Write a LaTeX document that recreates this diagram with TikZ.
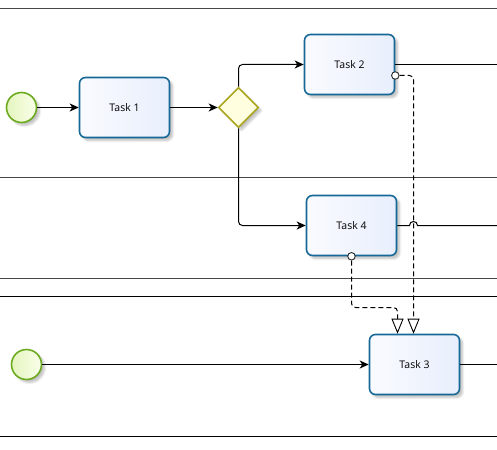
\documentclass[tikz,border=0pt]{standalone}
\usepackage{fontspec}
\setmainfont{Open Sans}
\usetikzlibrary{shapes.geometric,arrows.meta,shadows.blur,calc}
\definecolor{taskborder}{RGB}{22,104,150}
\definecolor{taskfillA}{RGB}{250,251,255}
\definecolor{taskfillB}{RGB}{232,238,252}
\definecolor{evborder}{RGB}{108,170,30}
\definecolor{evfillA}{RGB}{250,255,235}
\definecolor{evfillB}{RGB}{228,245,190}
\definecolor{gwborder}{RGB}{170,165,30}
\definecolor{gwfill}{RGB}{255,255,224}
\definecolor{lanegray}{RGB}{70,70,70}
\tikzset{
  taskbox/.style={draw=taskborder, line width=1.6pt, rounded corners=6pt,
    minimum width=90pt, minimum height=60pt, inner sep=0pt,
    left color=taskfillA, right color=taskfillB,
    font=\fontsize{10.5}{12}\selectfont,
    blur shadow={shadow xshift=3pt, shadow yshift=-3pt, shadow blur steps=6, shadow opacity=25}},
  startev/.style={circle, draw=evborder, line width=1.6pt, minimum size=30pt, inner sep=0pt,
    left color=evfillB, right color=evfillA,
    blur shadow={shadow xshift=3pt, shadow yshift=-3pt, shadow blur steps=6, shadow opacity=25}},
  gateway/.style={diamond, aspect=1, draw=gwborder, line width=1.6pt, minimum size=40pt, inner sep=0pt,
    fill=gwfill,
    blur shadow={shadow xshift=3pt, shadow yshift=-3pt, shadow blur steps=6, shadow opacity=25}},
  seqflow/.style={draw=black, line width=1pt, -{Stealth[length=9pt,width=8pt,inset=2.5pt]}, rounded corners=4pt},
  plainflow/.style={draw=black, line width=1pt},
  msgflow/.style={draw=black, line width=1pt, dash pattern=on 5pt off 3pt, rounded corners=4pt,
    -{Triangle[open, length=15pt, width=12pt, line width=0.9pt]}},
  msgstart/.style={circle, draw=black!85, fill=white, line width=0.9pt, minimum size=7.5pt, inner sep=0pt},
  lane/.style={draw=lanegray, line width=1pt},
  laneb/.style={draw=black, line width=1pt},
}
\begin{document}
\begin{tikzpicture}[x=1pt,y=-1pt]
\useasboundingbox (0,0) rectangle (497,449);
% lanes
\draw[lane] (0,8.5) -- (497,8.5);
\draw[lane] (0,177.5) -- (497,177.5);
\draw[lane] (0,278.5) -- (497,278.5);
\draw[laneb] (0,296.5) -- (497,296.5);
\draw[laneb] (0,436.5) -- (497,436.5);
% nodes
\node[startev] (s1) at (21.5,107.5) {};
\node[taskbox] (t1) at (124.5,107.5) {Task 1};
\node[gateway] (gw) at (238.5,107.5) {};
\node[taskbox] (t2) at (349.5,64.5) {Task 2};
\node[taskbox] (t4) at (351.5,225.5) {Task 4};
\node[taskbox] (t3) at (414.5,364.5) {Task 3};
\node[startev] (s2) at (26.5,364.5) {};
% edge coordinates
\coordinate (e2) at (497,64.5);
\coordinate (e4) at (497,225.5);
\coordinate (e3) at (497,364.5);
\coordinate (hopA) at (409.5,225.5);
\coordinate (hopB) at (417.5,225.5);
\coordinate (m2bend) at (351.5,307.5);
\coordinate (t3inA) at ([xshift=-17pt]t3.north);
\coordinate (t3inB) at ([xshift=-1pt]t3.north);
% sequence flows
\draw[seqflow] (s1) -- (t1);
\draw[seqflow] (t1) -- (gw.west);
\draw[seqflow] (gw.north) |- (t2.west);
\draw[seqflow] (gw.south) |- (t4.west);
\draw[seqflow] (s2) -- (t3.west);
\draw[plainflow] (t2.east) -- (e2);
\draw[plainflow] (t3.east) -- (e3);
\draw[plainflow] (t4.east) -- (hopA) .. controls ($(hopA)+(0,-5.3)$) and ($(hopB)+(0,-5.3)$) .. (hopB) -- (e4);
% message flows
\node[msgstart] (c1) at ([yshift=-11pt]t2.east) {};
\node[msgstart] (c2) at (t4.south) {};
\draw[msgflow] (c1.east) -| (t3inB);
\draw[msgflow] (c2.south) |- (m2bend -| t3inA) -- (t3inA);
\end{tikzpicture}
\end{document}
